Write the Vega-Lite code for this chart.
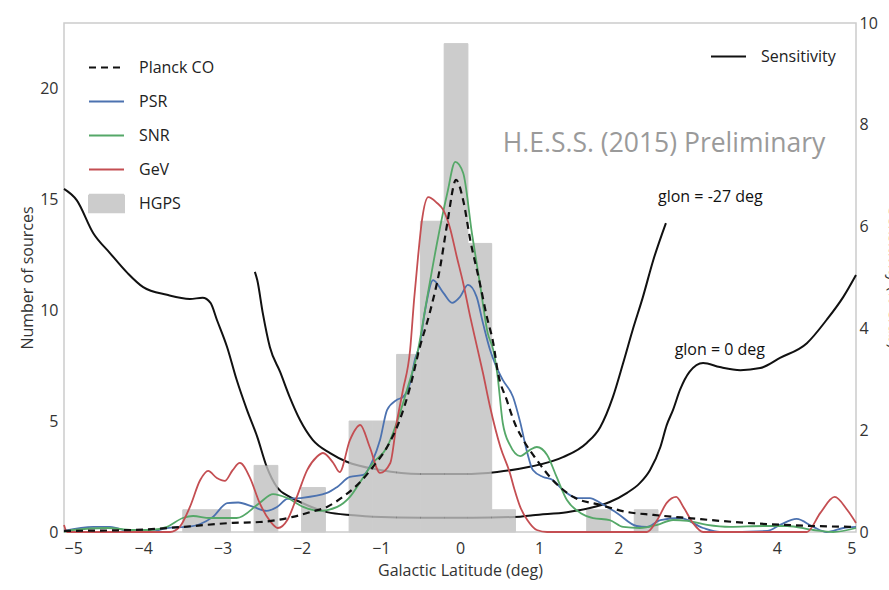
{
  "$schema": "https://vega.github.io/schema/vega-lite/v6.json",
  "width": 792,
  "height": 509,
  "autosize": {"type": "none"},
  "padding": {"left": 64, "top": 23, "right": 33, "bottom": 58},
  "background": "white",
  "config": {
    "font": "Open Sans",
    "view": {"stroke": "#cccccc", "strokeWidth": 1.5},
    "axis": {"grid": false, "domain": false, "ticks": false, "labelFontSize": 16, "labelColor": "#333333", "titleFontSize": 16, "titleColor": "#333333", "titleFontWeight": "normal", "labelFont": "Open Sans", "titleFont": "Open Sans"},
    "legend": {"labelFontSize": 16, "labelColor": "#222222", "labelFont": "Open Sans", "symbolSize": 1225, "symbolStrokeWidth": 2, "labelOffset": 14, "rowPadding": 7, "padding": 0}
  },
  "datasets": {
    "hist": [
      {"lat": -3.5, "lat2": -3.2, "n": 1},
      {"lat": -3.2, "lat2": -2.9, "n": 1},
      {"lat": -2.6, "lat2": -2.3, "n": 3},
      {"lat": -2.0, "lat2": -1.7, "n": 2},
      {"lat": -1.4, "lat2": -1.1, "n": 5},
      {"lat": -1.1, "lat2": -0.8, "n": 5},
      {"lat": -0.8, "lat2": -0.5, "n": 8},
      {"lat": -0.5, "lat2": -0.2, "n": 14},
      {"lat": -0.2, "lat2": 0.1, "n": 22},
      {"lat": 0.1, "lat2": 0.4, "n": 13},
      {"lat": 0.4, "lat2": 0.7, "n": 1},
      {"lat": 1.6, "lat2": 1.9, "n": 1},
      {"lat": 2.2, "lat2": 2.5, "n": 1}
    ],
    "dens": [
      {"series": "Planck CO", "lat": -5.0, "n": 0.05}, {"series": "Planck CO", "lat": -4.13, "n": 0.09}, {"series": "Planck CO", "lat": -3.5, "n": 0.23}, {"series": "Planck CO", "lat": -2.87, "n": 0.41}, {"series": "Planck CO", "lat": -2.53, "n": 0.45}, {"series": "Planck CO", "lat": -2.11, "n": 0.68}, {"series": "Planck CO", "lat": -1.89, "n": 0.9}, {"series": "Planck CO", "lat": -1.68, "n": 1.13}, {"series": "Planck CO", "lat": -1.48, "n": 1.58}, {"series": "Planck CO", "lat": -1.26, "n": 2.25}, {"series": "Planck CO", "lat": -1.1, "n": 2.93}, {"series": "Planck CO", "lat": -0.92, "n": 3.83}, {"series": "Planck CO", "lat": -0.76, "n": 5.05}, {"series": "Planck CO", "lat": -0.63, "n": 6.53}, {"series": "Planck CO", "lat": -0.51, "n": 8.29}, {"series": "Planck CO", "lat": -0.38, "n": 9.9}, {"series": "Planck CO", "lat": -0.25, "n": 11.94}, {"series": "Planck CO", "lat": -0.16, "n": 13.92}, {"series": "Planck CO", "lat": -0.05, "n": 15.86}, {"series": "Planck CO", "lat": 0.04, "n": 14.95}, {"series": "Planck CO", "lat": 0.13, "n": 13.15}, {"series": "Planck CO", "lat": 0.25, "n": 11.22}, {"series": "Planck CO", "lat": 0.34, "n": 9.68}, {"series": "Planck CO", "lat": 0.42, "n": 8.51}, {"series": "Planck CO", "lat": 0.48, "n": 7.16}, {"series": "Planck CO", "lat": 0.59, "n": 5.95}, {"series": "Planck CO", "lat": 0.69, "n": 4.91}, {"series": "Planck CO", "lat": 0.8, "n": 4.14}, {"series": "Planck CO", "lat": 0.97, "n": 3.24}, {"series": "Planck CO", "lat": 1.17, "n": 2.34}, {"series": "Planck CO", "lat": 1.43, "n": 1.58}, {"series": "Planck CO", "lat": 1.77, "n": 1.22}, {"series": "Planck CO", "lat": 2.11, "n": 0.9}, {"series": "Planck CO", "lat": 2.44, "n": 0.77}, {"series": "Planck CO", "lat": 2.87, "n": 0.63}, {"series": "Planck CO", "lat": 3.62, "n": 0.41}, {"series": "Planck CO", "lat": 4.46, "n": 0.27}, {"series": "Planck CO", "lat": 5.0, "n": 0.23},

      {"series": "PSR", "lat": -5.0, "n": 0.05}, {"series": "PSR", "lat": -4.63, "n": 0.23}, {"series": "PSR", "lat": -4.42, "n": 0.23}, {"series": "PSR", "lat": -4.13, "n": 0.0}, {"series": "PSR", "lat": -3.91, "n": 0.0}, {"series": "PSR", "lat": -3.7, "n": 0.18}, {"series": "PSR", "lat": -3.45, "n": 0.23}, {"series": "PSR", "lat": -3.28, "n": 0.36}, {"series": "PSR", "lat": -3.12, "n": 0.68}, {"series": "PSR", "lat": -2.94, "n": 1.3}, {"series": "PSR", "lat": -2.8, "n": 1.33}, {"series": "PSR", "lat": -2.61, "n": 1.13}, {"series": "PSR", "lat": -2.44, "n": 0.95}, {"series": "PSR", "lat": -2.31, "n": 1.13}, {"series": "PSR", "lat": -2.18, "n": 1.49}, {"series": "PSR", "lat": -2.02, "n": 1.53}, {"series": "PSR", "lat": -1.68, "n": 1.76}, {"series": "PSR", "lat": -1.55, "n": 2.03}, {"series": "PSR", "lat": -1.39, "n": 2.48}, {"series": "PSR", "lat": -1.22, "n": 2.57}, {"series": "PSR", "lat": -1.1, "n": 3.24}, {"series": "PSR", "lat": -1.01, "n": 4.14}, {"series": "PSR", "lat": -0.92, "n": 5.5}, {"series": "PSR", "lat": -0.8, "n": 5.95}, {"series": "PSR", "lat": -0.72, "n": 6.08}, {"series": "PSR", "lat": -0.63, "n": 6.71}, {"series": "PSR", "lat": -0.57, "n": 7.75}, {"series": "PSR", "lat": -0.51, "n": 8.42}, {"series": "PSR", "lat": -0.44, "n": 10.0}, {"series": "PSR", "lat": -0.34, "n": 11.35}, {"series": "PSR", "lat": -0.21, "n": 10.77}, {"series": "PSR", "lat": -0.1, "n": 10.32}, {"series": "PSR", "lat": 0.0, "n": 10.59}, {"series": "PSR", "lat": 0.1, "n": 11.13}, {"series": "PSR", "lat": 0.21, "n": 10.59}, {"series": "PSR", "lat": 0.29, "n": 9.41}, {"series": "PSR", "lat": 0.38, "n": 8.2}, {"series": "PSR", "lat": 0.45, "n": 7.52}, {"series": "PSR", "lat": 0.54, "n": 6.85}, {"series": "PSR", "lat": 0.67, "n": 6.08}, {"series": "PSR", "lat": 0.76, "n": 4.95}, {"series": "PSR", "lat": 0.85, "n": 3.56}, {"series": "PSR", "lat": 0.92, "n": 2.79}, {"series": "PSR", "lat": 1.05, "n": 2.48}, {"series": "PSR", "lat": 1.17, "n": 2.34}, {"series": "PSR", "lat": 1.3, "n": 1.89}, {"series": "PSR", "lat": 1.48, "n": 1.53}, {"series": "PSR", "lat": 1.64, "n": 1.53}, {"series": "PSR", "lat": 1.77, "n": 1.31}, {"series": "PSR", "lat": 1.98, "n": 0.86}, {"series": "PSR", "lat": 2.23, "n": 0.27}, {"series": "PSR", "lat": 2.36, "n": 0.23}, {"series": "PSR", "lat": 2.53, "n": 0.54}, {"series": "PSR", "lat": 2.78, "n": 0.63}, {"series": "PSR", "lat": 3.07, "n": 0.18}, {"series": "PSR", "lat": 3.28, "n": 0.0}, {"series": "PSR", "lat": 3.88, "n": 0.05}, {"series": "PSR", "lat": 4.04, "n": 0.32}, {"series": "PSR", "lat": 4.25, "n": 0.59}, {"series": "PSR", "lat": 4.46, "n": 0.23}, {"series": "PSR", "lat": 4.63, "n": 0.0}, {"series": "PSR", "lat": 4.84, "n": 0.18}, {"series": "PSR", "lat": 5.0, "n": 0.23},

      {"series": "SNR", "lat": -5.0, "n": 0.0}, {"series": "SNR", "lat": -4.89, "n": 0.09}, {"series": "SNR", "lat": -4.46, "n": 0.18}, {"series": "SNR", "lat": -4.13, "n": 0.09}, {"series": "SNR", "lat": -3.91, "n": 0.09}, {"series": "SNR", "lat": -3.7, "n": 0.23}, {"series": "SNR", "lat": -3.5, "n": 0.63}, {"series": "SNR", "lat": -3.37, "n": 0.72}, {"series": "SNR", "lat": -3.16, "n": 0.63}, {"series": "SNR", "lat": -2.82, "n": 0.63}, {"series": "SNR", "lat": -2.53, "n": 1.31}, {"series": "SNR", "lat": -2.36, "n": 1.71}, {"series": "SNR", "lat": -2.18, "n": 1.53}, {"series": "SNR", "lat": -1.98, "n": 1.13}, {"series": "SNR", "lat": -1.77, "n": 0.95}, {"series": "SNR", "lat": -1.55, "n": 1.13}, {"series": "SNR", "lat": -1.39, "n": 1.58}, {"series": "SNR", "lat": -1.26, "n": 2.25}, {"series": "SNR", "lat": -1.1, "n": 3.11}, {"series": "SNR", "lat": -0.92, "n": 3.83}, {"series": "SNR", "lat": -0.8, "n": 4.91}, {"series": "SNR", "lat": -0.67, "n": 6.4}, {"series": "SNR", "lat": -0.53, "n": 8.2}, {"series": "SNR", "lat": -0.42, "n": 10.45}, {"series": "SNR", "lat": -0.29, "n": 13.02}, {"series": "SNR", "lat": -0.16, "n": 15.27}, {"series": "SNR", "lat": -0.06, "n": 16.67}, {"series": "SNR", "lat": 0.04, "n": 16.17}, {"series": "SNR", "lat": 0.15, "n": 13.47}, {"series": "SNR", "lat": 0.25, "n": 11.22}, {"series": "SNR", "lat": 0.35, "n": 8.96}, {"series": "SNR", "lat": 0.42, "n": 8.2}, {"series": "SNR", "lat": 0.47, "n": 7.16}, {"series": "SNR", "lat": 0.54, "n": 4.91}, {"series": "SNR", "lat": 0.63, "n": 3.92}, {"series": "SNR", "lat": 0.76, "n": 3.42}, {"series": "SNR", "lat": 0.88, "n": 3.69}, {"series": "SNR", "lat": 0.97, "n": 3.83}, {"series": "SNR", "lat": 1.1, "n": 3.47}, {"series": "SNR", "lat": 1.22, "n": 2.48}, {"series": "SNR", "lat": 1.35, "n": 1.44}, {"series": "SNR", "lat": 1.52, "n": 0.86}, {"series": "SNR", "lat": 1.68, "n": 0.63}, {"series": "SNR", "lat": 1.89, "n": 0.54}, {"series": "SNR", "lat": 2.06, "n": 0.23}, {"series": "SNR", "lat": 2.27, "n": 0.18}, {"series": "SNR", "lat": 2.49, "n": 0.32}, {"series": "SNR", "lat": 2.69, "n": 0.54}, {"series": "SNR", "lat": 2.87, "n": 0.5}, {"series": "SNR", "lat": 3.12, "n": 0.32}, {"series": "SNR", "lat": 3.41, "n": 0.23}, {"series": "SNR", "lat": 3.83, "n": 0.27}, {"series": "SNR", "lat": 4.13, "n": 0.27}, {"series": "SNR", "lat": 4.46, "n": 0.09}, {"series": "SNR", "lat": 4.71, "n": 0.0}, {"series": "SNR", "lat": 5.0, "n": 0.18},

      {"series": "GeV", "lat": -5.0, "n": 0.32}, {"series": "GeV", "lat": -4.96, "n": 0.0}, {"series": "GeV", "lat": -3.66, "n": 0.0}, {"series": "GeV", "lat": -3.54, "n": 0.23}, {"series": "GeV", "lat": -3.41, "n": 1.13}, {"series": "GeV", "lat": -3.28, "n": 2.34}, {"series": "GeV", "lat": -3.18, "n": 2.75}, {"series": "GeV", "lat": -3.07, "n": 2.43}, {"series": "GeV", "lat": -2.97, "n": 2.3}, {"series": "GeV", "lat": -2.87, "n": 2.79}, {"series": "GeV", "lat": -2.78, "n": 3.11}, {"series": "GeV", "lat": -2.65, "n": 2.43}, {"series": "GeV", "lat": -2.53, "n": 1.31}, {"series": "GeV", "lat": -2.4, "n": 0.5}, {"series": "GeV", "lat": -2.3, "n": 0.18}, {"series": "GeV", "lat": -2.18, "n": 0.54}, {"series": "GeV", "lat": -2.06, "n": 1.58}, {"series": "GeV", "lat": -1.93, "n": 2.79}, {"series": "GeV", "lat": -1.81, "n": 3.38}, {"series": "GeV", "lat": -1.73, "n": 3.56}, {"series": "GeV", "lat": -1.6, "n": 3.11}, {"series": "GeV", "lat": -1.52, "n": 2.7}, {"series": "GeV", "lat": -1.39, "n": 4.14}, {"series": "GeV", "lat": -1.26, "n": 4.82}, {"series": "GeV", "lat": -1.14, "n": 3.83}, {"series": "GeV", "lat": -1.01, "n": 2.66}, {"series": "GeV", "lat": -0.88, "n": 3.11}, {"series": "GeV", "lat": -0.8, "n": 4.91}, {"series": "GeV", "lat": -0.72, "n": 6.4}, {"series": "GeV", "lat": -0.63, "n": 8.2}, {"series": "GeV", "lat": -0.58, "n": 10.45}, {"series": "GeV", "lat": -0.53, "n": 12.39}, {"series": "GeV", "lat": -0.48, "n": 14.05}, {"series": "GeV", "lat": -0.4, "n": 15.09}, {"series": "GeV", "lat": -0.29, "n": 14.82}, {"series": "GeV", "lat": -0.21, "n": 14.5}, {"series": "GeV", "lat": -0.13, "n": 13.74}, {"series": "GeV", "lat": -0.04, "n": 12.39}, {"series": "GeV", "lat": 0.04, "n": 11.22}, {"series": "GeV", "lat": 0.13, "n": 9.68}, {"series": "GeV", "lat": 0.21, "n": 8.42}, {"series": "GeV", "lat": 0.29, "n": 7.16}, {"series": "GeV", "lat": 0.38, "n": 5.63}, {"series": "GeV", "lat": 0.51, "n": 3.83}, {"series": "GeV", "lat": 0.63, "n": 2.66}, {"series": "GeV", "lat": 0.69, "n": 1.89}, {"series": "GeV", "lat": 0.76, "n": 1.13}, {"series": "GeV", "lat": 0.85, "n": 0.54}, {"series": "GeV", "lat": 0.97, "n": 0.09}, {"series": "GeV", "lat": 1.1, "n": 0.0}, {"series": "GeV", "lat": 2.36, "n": 0.0}, {"series": "GeV", "lat": 2.49, "n": 0.54}, {"series": "GeV", "lat": 2.61, "n": 1.31}, {"series": "GeV", "lat": 2.73, "n": 1.58}, {"series": "GeV", "lat": 2.82, "n": 1.13}, {"series": "GeV", "lat": 2.94, "n": 0.41}, {"series": "GeV", "lat": 3.07, "n": 0.0}, {"series": "GeV", "lat": 4.38, "n": 0.0}, {"series": "GeV", "lat": 4.55, "n": 0.86}, {"series": "GeV", "lat": 4.73, "n": 1.58}, {"series": "GeV", "lat": 4.89, "n": 0.99}, {"series": "GeV", "lat": 5.0, "n": 0.41}
    ],
    "sens": [
      {"curve": "glon0", "lat": -5.0, "s": 6.74}, {"curve": "glon0", "lat": -4.84, "s": 6.52}, {"curve": "glon0", "lat": -4.63, "s": 5.87}, {"curve": "glon0", "lat": -4.42, "s": 5.48}, {"curve": "glon0", "lat": -4.2, "s": 5.09}, {"curve": "glon0", "lat": -4.0, "s": 4.81}, {"curve": "glon0", "lat": -3.7, "s": 4.66}, {"curve": "glon0", "lat": -3.41, "s": 4.58}, {"curve": "glon0", "lat": -3.25, "s": 4.6}, {"curve": "glon0", "lat": -3.15, "s": 4.5}, {"curve": "glon0", "lat": -3.07, "s": 4.17}, {"curve": "glon0", "lat": -2.94, "s": 3.63}, {"curve": "glon0", "lat": -2.82, "s": 2.99}, {"curve": "glon0", "lat": -2.69, "s": 2.4}, {"curve": "glon0", "lat": -2.56, "s": 1.87}, {"curve": "glon0", "lat": -2.44, "s": 1.28}, {"curve": "glon0", "lat": -2.31, "s": 0.88}, {"curve": "glon0", "lat": -2.15, "s": 0.69}, {"curve": "glon0", "lat": -2.02, "s": 0.59}, {"curve": "glon0", "lat": -1.68, "s": 0.39}, {"curve": "glon0", "lat": -1.35, "s": 0.33}, {"curve": "glon0", "lat": -1.1, "s": 0.3}, {"curve": "glon0", "lat": -0.47, "s": 0.28}, {"curve": "glon0", "lat": 0.16, "s": 0.28}, {"curve": "glon0", "lat": 0.76, "s": 0.3}, {"curve": "glon0", "lat": 0.92, "s": 0.33}, {"curve": "glon0", "lat": 1.35, "s": 0.39}, {"curve": "glon0", "lat": 1.64, "s": 0.47}, {"curve": "glon0", "lat": 1.89, "s": 0.59}, {"curve": "glon0", "lat": 2.11, "s": 0.77}, {"curve": "glon0", "lat": 2.27, "s": 0.96}, {"curve": "glon0", "lat": 2.4, "s": 1.22}, {"curve": "glon0", "lat": 2.53, "s": 1.67}, {"curve": "glon0", "lat": 2.61, "s": 2.1}, {"curve": "glon0", "lat": 2.69, "s": 2.4}, {"curve": "glon0", "lat": 2.78, "s": 2.8}, {"curve": "glon0", "lat": 2.9, "s": 3.15}, {"curve": "glon0", "lat": 3.07, "s": 3.32}, {"curve": "glon0", "lat": 3.28, "s": 3.24}, {"curve": "glon0", "lat": 3.54, "s": 3.18}, {"curve": "glon0", "lat": 3.79, "s": 3.22}, {"curve": "glon0", "lat": 4.04, "s": 3.42}, {"curve": "glon0", "lat": 4.38, "s": 3.71}, {"curve": "glon0", "lat": 4.63, "s": 4.17}, {"curve": "glon0", "lat": 4.84, "s": 4.62}, {"curve": "glon0", "lat": 5.0, "s": 5.05},

      {"curve": "glon27", "lat": -2.59, "s": 5.11}, {"curve": "glon27", "lat": -2.56, "s": 4.95}, {"curve": "glon27", "lat": -2.49, "s": 4.3}, {"curve": "glon27", "lat": -2.4, "s": 3.63}, {"curve": "glon27", "lat": -2.27, "s": 3.14}, {"curve": "glon27", "lat": -2.15, "s": 2.65}, {"curve": "glon27", "lat": -2.02, "s": 2.2}, {"curve": "glon27", "lat": -1.86, "s": 1.81}, {"curve": "glon27", "lat": -1.64, "s": 1.55}, {"curve": "glon27", "lat": -1.43, "s": 1.38}, {"curve": "glon27", "lat": -1.01, "s": 1.22}, {"curve": "glon27", "lat": -0.51, "s": 1.14}, {"curve": "glon27", "lat": 0.04, "s": 1.14}, {"curve": "glon27", "lat": 0.47, "s": 1.18}, {"curve": "glon27", "lat": 0.88, "s": 1.28}, {"curve": "glon27", "lat": 1.3, "s": 1.47}, {"curve": "glon27", "lat": 1.6, "s": 1.75}, {"curve": "glon27", "lat": 1.77, "s": 2.06}, {"curve": "glon27", "lat": 1.93, "s": 2.65}, {"curve": "glon27", "lat": 2.06, "s": 3.32}, {"curve": "glon27", "lat": 2.18, "s": 3.97}, {"curve": "glon27", "lat": 2.31, "s": 4.62}, {"curve": "glon27", "lat": 2.44, "s": 5.34}, {"curve": "glon27", "lat": 2.6, "s": 6.07}
    ],
    "notes": [
      {"kind": "big", "label": "H.E.S.S. (2015) Preliminary", "lat": 0.54, "n": 17.5},
      {"kind": "small", "label": "glon = -27 deg", "lat": 2.5, "n": 15.1},
      {"kind": "small", "label": "glon = 0 deg", "lat": 2.71, "n": 8.2}
    ]
  },
  "encoding": {
    "x": {
      "field": "lat", "type": "quantitative", "title": "Galactic Latitude (deg)",
      "scale": {"domain": [-5, 5], "nice": false, "zero": false},
      "axis": {"values": [-5, -4, -3, -2, -1, 0, 1, 2, 3, 4, 5], "labelPadding": 8, "titlePadding": 6}
    }
  },
  "layer": [
    {
      "data": {"name": "hist"},
      "mark": {"type": "rect", "color": "#cccccc", "stroke": "#cccccc", "strokeWidth": 1},
      "encoding": {
        "x2": {"field": "lat2"},
        "y": {"field": "n", "type": "quantitative", "scale": {"domain": [0, 22.93], "nice": false}, "axis": null},
        "y2": {"datum": 0}
      }
    },
    {
      "data": {"name": "sens"},
      "mark": {"type": "line", "interpolate": "monotone", "strokeWidth": 2},
      "encoding": {
        "y": {"field": "s", "type": "quantitative", "title": "Sensitivity (% Crab)",
          "scale": {"domain": [0, 10], "nice": false},
          "axis": {"orient": "right", "values": [0, 2, 4, 6, 8, 10], "labelPadding": 3, "titlePadding": 8, "titleColor": "#333333"}},
        "detail": {"field": "curve"},
        "stroke": {"datum": "Sensitivity", "type": "nominal",
          "scale": {"domain": ["Sensitivity"], "range": ["#111111"]},
          "legend": {"orient": "none", "legendX": 646, "legendY": 15, "title": null, "symbolType": "stroke"}}
      }
    },
    {
      "encoding": {
        "y": {"field": "n", "type": "quantitative", "title": "Number of sources",
          "scale": {"domain": [0, 22.93], "nice": false},
          "axis": {"orient": "left", "values": [0, 5, 10, 15, 20], "labelPadding": 6, "titlePadding": 4}}
      },
      "layer": [
        {
          "data": {"name": "hist"},
          "mark": {"type": "rect", "opacity": 0.75},
          "encoding": {
            "x2": {"field": "lat2"},
            "y2": {"datum": 0},
            "color": {"datum": "HGPS", "type": "nominal"}
          }
        },
        {
          "data": {"name": "dens"},
          "transform": [{"filter": "datum.series !== 'Planck CO'"}],
          "mark": {"type": "line", "interpolate": "monotone", "strokeWidth": 1.8},
          "encoding": {
            "color": {"field": "series", "type": "nominal",
              "scale": {"domain": ["Planck CO", "PSR", "SNR", "GeV", "HGPS"], "range": ["#111111", "#4c72b0", "#55a868", "#c44e52", "#cccccc"]},
              "legend": {"orient": "none", "legendX": 24, "legendY": 26, "title": null,
                "encode": {"symbols": {"update": {
                  "shape": {"signal": "datum.value === 'HGPS' ? 'M-1,-0.5H1V0.5H-1Z' : 'stroke'"},
                  "fill": {"signal": "datum.value === 'HGPS' ? '#cccccc' : 'transparent'"},
                  "stroke": {"signal": "datum.value === 'HGPS' ? 'transparent' : datum.value === 'PSR' ? '#4c72b0' : datum.value === 'SNR' ? '#55a868' : datum.value === 'GeV' ? '#c44e52' : '#111111'"},
                  "strokeDash": {"signal": "datum.value === 'Planck CO' ? [7, 5] : [1, 0]"},
                  "strokeWidth": {"value": 2},
                  "opacity": {"value": 1}
                }}}}
            }
          }
        },
        {
          "data": {"name": "dens"},
          "transform": [{"filter": "datum.series === 'Planck CO'"}],
          "mark": {"type": "line", "interpolate": "monotone", "strokeWidth": 2.2, "strokeDash": [7, 5]},
          "encoding": {
            "color": {"field": "series", "type": "nominal"}
          }
        },
        {
          "data": {"name": "notes"},
          "transform": [{"filter": "datum.kind === 'big'"}],
          "mark": {"type": "text", "align": "left", "baseline": "middle", "fontSize": 26.5, "color": "#9a9a9a", "font": "Open Sans"},
          "encoding": {"text": {"field": "label"}}
        },
        {
          "data": {"name": "notes"},
          "transform": [{"filter": "datum.kind === 'small'"}],
          "mark": {"type": "text", "align": "left", "baseline": "middle", "fontSize": 16, "color": "#111111", "font": "Open Sans"},
          "encoding": {"text": {"field": "label"}}
        }
      ]
    }
  ],
  "resolve": {"scale": {"y": "independent"}}
}
